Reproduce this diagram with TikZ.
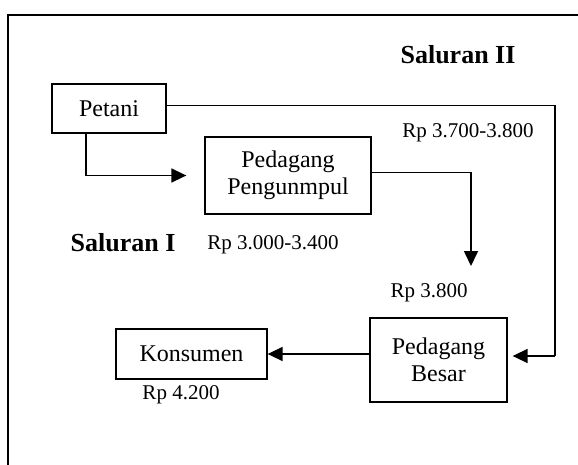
\documentclass[tikz,border=0pt]{standalone}
\usepackage{fontspec}
\setmainfont{Liberation Serif}
\usepackage{tikz}
\usetikzlibrary{arrows.meta}
\usetikzlibrary{positioning,calc}
\tikzstyle{box} = [rectangle, draw=black, line width=1.3pt, text centered, align=center, inner sep=0pt, font=\fontsize{24}{27.5}\selectfont]
\tikzstyle{flow} = [line width=1.6pt, -{Triangle[length=15pt,width=14pt]}]
\tikzstyle{price} = [font=\fontsize{21}{24}\selectfont]
\tikzstyle{channel} = [font=\fontsize{26}{30}\selectfont\bfseries]

\begin{document}
\begin{tikzpicture}[x=1pt,y=-1pt]
				\useasboundingbox (0,0) rectangle (578,464);
				\draw[line width=1.5pt] (8,15) rectangle (610,500);
				
				\node[box, minimum width=114pt, minimum height=49pt] (petani) at (109,108.5) {Petani};
				\node[box, minimum width=166pt, minimum height=77pt] (pengumpul) at (288,175.5) {Pedagang\\Pengunmpul};
				\node[box, minimum width=137pt, minimum height=84pt] (besar) at (438.5,360) {Pedagang\\Besar};
				\node[box, minimum width=151pt, minimum height=50pt] (konsumen) at (191.5,354) {Konsumen};
				
				% saluran I
				\draw[flow, shorten >=18pt] ($(petani.south west)!0.3!(petani.south east)$) |- (pengumpul.west);
				\coordinate (drop) at (471,266);
				\draw[flow] ($(pengumpul.east)+(0,-3)$) -| (drop);
				\draw[flow] (konsumen.east -| besar.west) -- (konsumen.east);
				
				% saluran II
				\coordinate (turn) at (555,356);
				\draw[line width=1.1pt] ($(petani.east)+(0,-3)$) -| (turn);
				\draw[flow, shorten >=5pt] (turn) -- (turn -| besar.east);
				
				\node[channel] (sal2) at (458,55) {Saluran II};
				\node[channel] (sal1) at (123,243) {Saluran I};
				\node[price] (p2) at (468,133) {Rp 3.700-3.800};
				\node[price] (p1) at (273,245) {Rp 3.000-3.400};
				\node[price] (p3) at (429,293) {Rp 3.800};
				\node[price] (p4) at (181,395) {Rp 4.200};
			\end{tikzpicture}
\end{document}
